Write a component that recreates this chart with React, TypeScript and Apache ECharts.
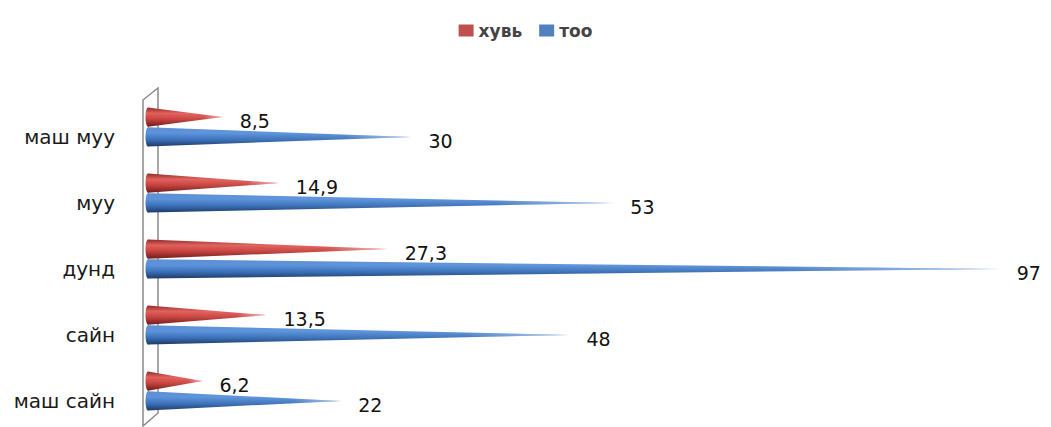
import React, { useEffect, useRef } from "react";
import * as echarts from "echarts";

// Survey answers, listed top to bottom
const categories = ["маш муу", "муу", "дунд", "сайн", "маш сайн"];
const percentValues = [8.5, 14.9, 27.3, 13.5, 6.2]; // хувь
const countValues = [30, 53, 97, 48, 22]; // тоо
const seriesNames = ["хувь", "тоо"];

const fmt = (v: number) => String(v).replace(".", ",");

const redStops = [
  { offset: 0, color: "#8e2d2a" },
  { offset: 0.3, color: "#e2605b" },
  { offset: 0.6, color: "#c9423e" },
  { offset: 1, color: "#6f1c1a" },
];
const blueStops = [
  { offset: 0, color: "#5f8fd0" },
  { offset: 0.3, color: "#5b93dc" },
  { offset: 0.65, color: "#3a70b8" },
  { offset: 1, color: "#1d3a66" },
];

// Draws a horizontal cone from the axis to the value, with its value label
function coneRenderer(shift: number, stops: any[]) {
  return (params: any, api: any) => {
    const v = api.value(0);
    const c = api.value(1);
    const base = api.coord([0, c]);
    const tip = api.coord([v, c]);
    const band = api.size([0, 1])[1];
    const y = base[1] + band * shift;
    const h = band * 0.145;
    const grad = new echarts.graphic.LinearGradient(0, 0, 0, 1, stops);
    const fade = new echarts.graphic.LinearGradient(0, 0, 1, 0, [
      { offset: 0, color: "rgba(255,255,255,0)" },
      { offset: 0.75, color: "rgba(255,255,255,0.05)" },
      { offset: 1, color: "rgba(255,255,255,0.6)" },
    ]);
    const pts = [
      [base[0], y - h],
      [tip[0], y],
      [base[0], y + h],
    ];
    return {
      type: "group",
      children: [
        { type: "polygon", shape: { points: pts }, style: { fill: grad } },
        { type: "polygon", shape: { points: pts }, style: { fill: fade } },
        {
          type: "ellipse",
          shape: { cx: base[0], cy: y, rx: 2.5, ry: h },
          style: { fill: grad },
        },
        {
          type: "text",
          x: tip[0] + 17,
          y: y + 4,
          style: {
            text: fmt(v),
            fill: "#111",
            font: '19px "DejaVu Sans", sans-serif',
            align: "left",
            verticalAlign: "middle",
          },
        },
      ],
    };
  };
}

export default function App() {
  const ref = useRef<HTMLDivElement>(null);

  useEffect(() => {
    if (!ref.current) return;
    const chart = echarts.init(ref.current, undefined, { renderer: "svg" });
    chart.setOption({
      animation: false,
      backgroundColor: "#ffffff",
      legend: {
        top: 17,
        left: "center",
        data: seriesNames,
        icon: "rect",
        itemWidth: 15,
        itemHeight: 12,
        itemGap: 17,
        textStyle: {
          fontSize: 17,
          fontWeight: "bold",
          color: "#444",
          fontFamily: "DejaVu Sans",
        },
      },
      grid: { left: 148, right: 25, top: 94, bottom: 3 },
      xAxis: { type: "value", min: 0, max: 100, show: false },
      yAxis: {
        type: "category",
        data: categories,
        inverse: true,
        axisLine: { show: false },
        axisTick: { show: false },
        splitLine: { show: false },
        axisLabel: {
          margin: 33,
          fontSize: 20,
          color: "#1a1a1a",
          fontFamily: "DejaVu Sans",
          verticalAlign: "top",
          lineHeight: 20,
        },
      },
      graphic: [
        {
          type: "polygon",
          shape: {
            points: [
              [143, 100],
              [158, 88],
              [158, 413],
              [143, 426],
            ],
          },
          style: { fill: "#fff", stroke: "#8a8a8a", lineWidth: 1.5 },
          z: -1,
        },
      ],
      series: [
        {
          name: seriesNames[0],
          type: "custom",
          itemStyle: { color: "#c0504d" },
          encode: { x: 0, y: 1 },
          data: percentValues.map((v, i) => [v, i]),
          renderItem: coneRenderer(-0.15, redStops),
          z: 3,
        },
        {
          name: seriesNames[1],
          type: "custom",
          itemStyle: { color: "#4f81bd" },
          encode: { x: 0, y: 1 },
          data: countValues.map((v, i) => [v, i]),
          renderItem: coneRenderer(0.15, blueStops),
          z: 2,
        },
      ],
    });
    return () => chart.dispose();
  }, []);

  return (
    <div
      ref={ref}
      style={{ position: "fixed", left: 0, top: 0, width: 1051, height: 427 }}
    />
  );
}
